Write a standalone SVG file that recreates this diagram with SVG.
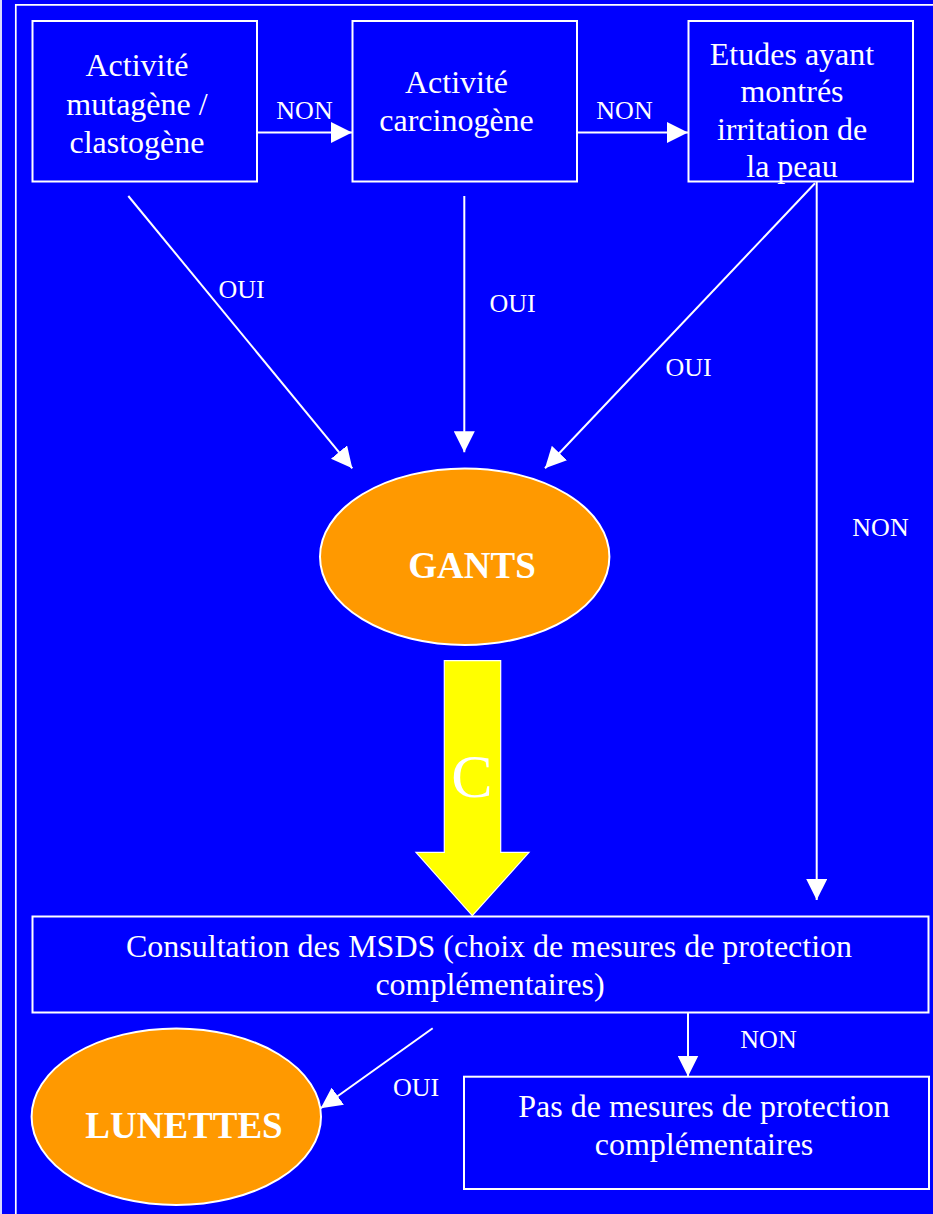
<svg xmlns="http://www.w3.org/2000/svg" width="933" height="1214" viewBox="0 0 933 1214">
<defs>
<style>
.box{fill:#0000FF;stroke:#FFFFFF;stroke-width:2}
.oval{fill:#FF9900;stroke:#FFFFFF;stroke-width:2}
.t{font-family:"Liberation Serif","Times New Roman",serif;fill:#FFFFFF;text-anchor:middle}
.n{font-size:32px}
.lbl{font-size:26px}
.big{font-size:37px;font-weight:bold}
.conn{stroke:#FFFFFF;stroke-width:2;fill:none;marker-end:url(#ah)}
.frame{stroke:#FFFFFF;stroke-width:1.7;fill:none}
</style>
<marker id="ah" markerUnits="userSpaceOnUse" markerWidth="21" markerHeight="21" refX="21" refY="10.5" orient="auto">
<path d="M0,0 L21,10.5 L0,21 z" fill="#FFFFFF"/>
</marker>
</defs>
<rect x="0" y="0" width="933" height="1214" fill="#0000FF"/>
<g id="frame">
<line class="frame" x1="1" y1="0" x2="1" y2="1214"/>
<polyline class="frame" points="15.8,1214 15.8,4.8 933,4.8"/>
</g>
<g id="connectors">
<line class="conn" x1="257" y1="132.5" x2="352" y2="132.5"/>
<line class="conn" x1="577" y1="132.5" x2="688" y2="132.5"/>
<line class="conn" x1="128.3" y1="196" x2="352.3" y2="468.3"/>
<line class="conn" x1="464.3" y1="196" x2="464.3" y2="452.3"/>
<line class="conn" x1="815" y1="183.3" x2="545" y2="468.3"/>
<line class="conn" x1="816.7" y1="181" x2="816.7" y2="900"/>
<line class="conn" x1="688" y1="1013" x2="688" y2="1076.5"/>
<line class="conn" x1="432.7" y1="1028.3" x2="320.7" y2="1108.3"/>
<text class="t lbl" x="304.5" y="119">NON</text>
<text class="t lbl" x="624.5" y="119">NON</text>
<text class="t lbl" x="241.5" y="298">OUI</text>
<text class="t lbl" x="512.5" y="312">OUI</text>
<text class="t lbl" x="688.5" y="376">OUI</text>
<text class="t lbl" x="880.5" y="536">NON</text>
<text class="t lbl" x="768.5" y="1048">NON</text>
<text class="t lbl" x="416" y="1096">OUI</text>
</g>
<g id="mutagene">
<rect class="box" x="32.5" y="21" width="224.5" height="160.5"/>
<text class="t n" x="137" y="76">Activité</text>
<text class="t n" x="137" y="115">mutagène /</text>
<text class="t n" x="137" y="153">clastogène</text>
</g>
<g id="carcinogene">
<rect class="box" x="352.5" y="21" width="224.5" height="160.5"/>
<text class="t n" x="456.5" y="92.7">Activité</text>
<text class="t n" x="456.5" y="131">carcinogène</text>
</g>
<g id="irritation">
<rect class="box" x="688.5" y="21" width="224.5" height="160.5"/>
<text class="t n" x="792" y="65">Etudes ayant</text>
<text class="t n" x="792" y="102">montrés</text>
<text class="t n" x="792" y="140">irritation de</text>
<text class="t n" x="792" y="177">la peau</text>
</g>
<g id="gants">
<ellipse class="oval" cx="464.7" cy="556.7" rx="144.7" ry="88.3"/>
<text class="t big" x="472" y="578">GANTS</text>
</g>
<g id="arrowC">
<polygon points="444.3,660.7 500.7,660.7 500.7,852.3 529,852.3 472.3,915.7 416,852.3 444.3,852.3" fill="#FFFF00" stroke="#FFFFFF" stroke-width="1.2"/>
<text class="t" x="472" y="797" style="font-size:62px">C</text>
</g>
<g id="msds">
<rect class="box" x="32.5" y="916.5" width="896" height="96"/>
<text class="t n" x="489" y="957">Consultation des MSDS (choix de mesures de protection</text>
<text class="t n" x="490" y="995">complémentaires)</text>
</g>
<g id="lunettes">
<ellipse class="oval" cx="176.3" cy="1116.7" rx="144.7" ry="88.3"/>
<text class="t big" x="184" y="1138">LUNETTES</text>
</g>
<g id="pas">
<rect class="box" x="464" y="1076.7" width="465" height="112.3"/>
<text class="t n" x="704" y="1116.7">Pas de mesures de protection</text>
<text class="t n" x="704" y="1155">complémentaires</text>
</g>
</svg>
